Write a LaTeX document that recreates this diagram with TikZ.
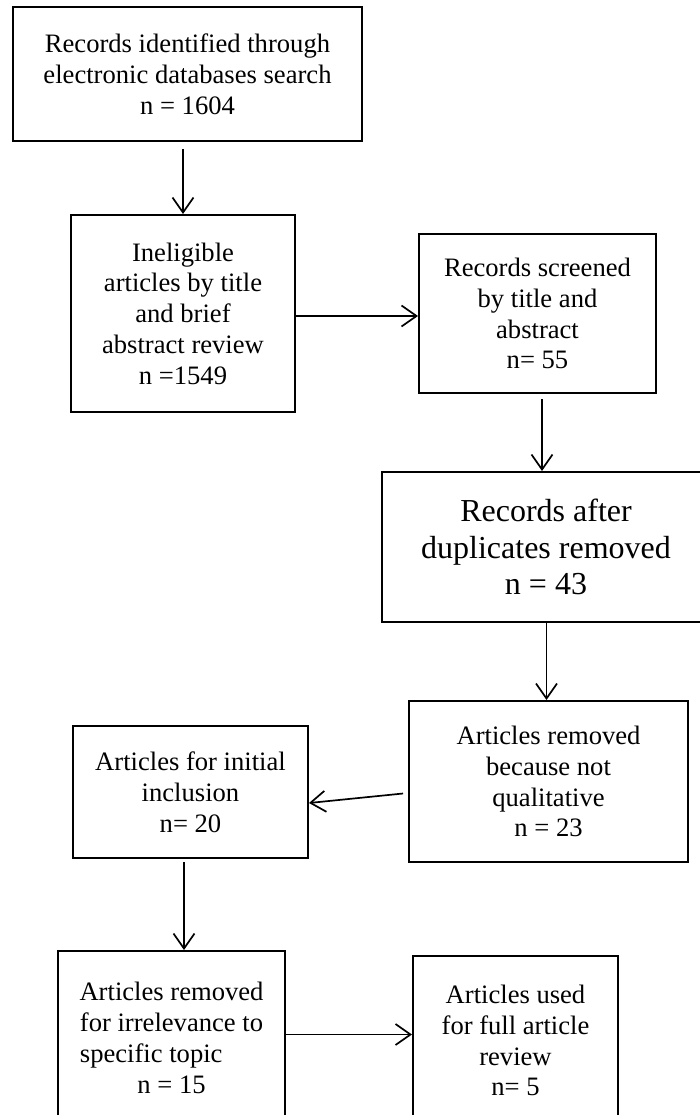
\documentclass[tikz,border=0pt]{standalone}
\usepackage{fontspec}
\setmainfont{Liberation Serif}
\usetikzlibrary{arrows.meta}
\tikzset{
  box/.style={draw, line width=2pt, rectangle, inner sep=0pt, align=center,
    font=\fontsize{26.6}{30.8}\selectfont},
  bigbox/.style={box, font=\fontsize{32}{36.7}\selectfont},
  arr/.style={line width=1.7pt, -{Straight Barb[length=15pt,width=21pt,line width=1.7pt]}}
}
\begin{document}
\begin{tikzpicture}[x=1pt,y=-1pt]
\useasboundingbox (0,0) rectangle (699,1115);
\node[box, minimum width=349pt, minimum height=134pt] (b1) at (187.5,74)
  {Records identified through\\electronic databases search\\n = 1604};
\node[box, minimum width=224pt, minimum height=197pt] (b2) at (183,313.5)
  {Ineligible\\articles by title\\and brief\\abstract review\\n =1549};
\node[box, minimum width=237pt, minimum height=159pt] (b3) at (537.5,313.5)
  {Records screened\\by title and\\abstract\\n= 55};
\node[bigbox, minimum width=328pt, minimum height=150pt] (b4) at (546,547)
  {Records after\\duplicates removed\\n = 43};
\node[box, minimum width=279pt, minimum height=161pt] (b5) at (548.5,781.5)
  {Articles removed\\because not\\qualitative\\n = 23};
\node[box, minimum width=235pt, minimum height=132pt] (b6) at (190.5,792)
  {Articles for initial\\inclusion\\n= 20};
\node[box, minimum width=227pt, minimum height=174pt] (b7) at (171.5,1038)
  {Articles removed\\for irrelevance to\\\rlap{specific topic}\phantom{for irrelevance to}\\n = 15};
\node[box, minimum width=205pt, minimum height=169pt] (b8) at (515.5,1040.5)
  {Articles used\\for full article\\review\\n= 5};
% connectors
\draw[arr, shorten <=7pt] (b1.south -| b2.north) -- (b2.north);
\draw[arr] ([yshift=-2.5pt]b2.east) -- ([yshift=-2.5pt]b2.east -| b3.west);
\draw[arr, shorten <=5pt] ([xshift=4.5pt]b3.south) -- ([xshift=4.5pt]b3.south |- b4.north);
\draw[arr] ([xshift=-2pt]b4.south -| b5.north) -- ([xshift=-2pt]b5.north);
\draw[arr, shorten <=5pt] ([yshift=-11.5pt]b5.west) -- ([yshift=-11pt]b6.east);
\draw[arr, shorten <=3pt] ([xshift=-6.5pt]b6.south) -- ([xshift=-6.5pt]b6.south |- b7.north);
\draw[arr] ([yshift=3.5pt]b7.east) -- ([yshift=3.5pt]b7.east -| b8.west);
\end{tikzpicture}
\end{document}
